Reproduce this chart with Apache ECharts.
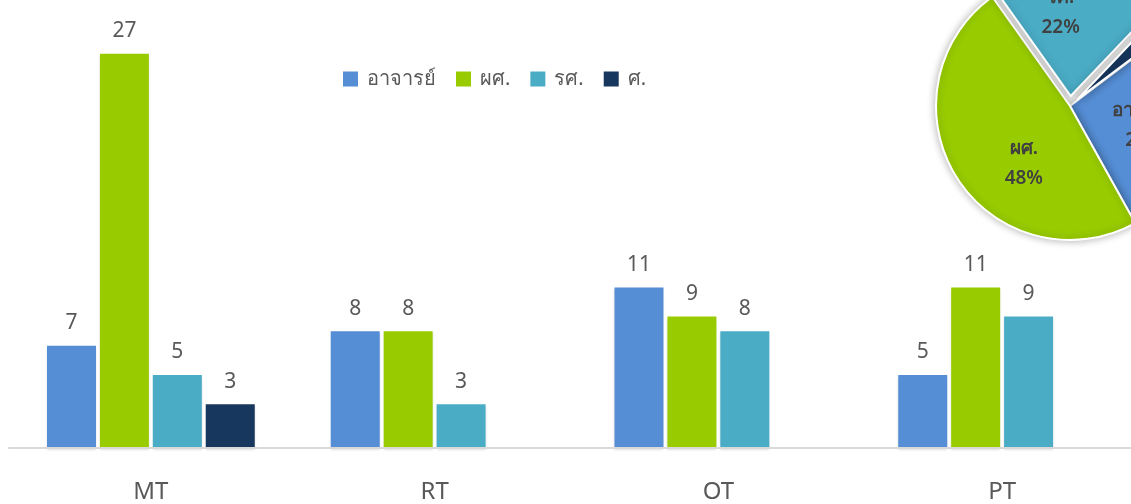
<!DOCTYPE html>
<html>
<head>
<meta charset="utf-8">
<script src="https://cdn.jsdelivr.net/npm/echarts@6/dist/echarts.min.js"></script>
<style>
  html, body { margin: 0; padding: 0; background: #fff; overflow: hidden; }
  #main { width: 1144px; height: 504px; }
</style>
</head>
<body>
<div id="main"></div>
<script>
var categories = ['MT', 'RT', 'OT', 'PT'];
var seriesNames = ['อาจารย์', 'ผศ.', 'รศ.', 'ศ.'];
var lecturer = [7, 8, 11, 5];
var asstProf = [27, 8, 9, 11];
var assocProf = [5, 3, 8, 9];
var professor = [3, null, null, null];
var pieValues = [31, 55, 25, 3];
var colors = ['#558ED5', '#99CC00', '#4BACC6', '#17375E'];
// nudges so the pie labels sit where the original put them
var pieLabelShift = [[6, 5], [13, 20], [-15, -14], [0, 0]];

var font = 'Noto Sans, sans-serif';
var chart = echarts.init(document.getElementById('main'));

function barSeries (name, data, color) {
  return {
    name: name,
    type: 'bar',
    data: data,
    barWidth: 49,
    barGap: '8%',
    itemStyle: {
      color: color,
      shadowColor: 'rgba(0,0,0,0.12)',
      shadowOffsetY: 2,
      shadowBlur: 2
    },
    label: {
      show: true,
      position: 'top',
      distance: 12,
      color: '#595959',
      fontSize: 21,
      fontFamily: font
    }
  };
}

chart.setOption({
  animation: false,
  color: colors,
  legend: {
    data: seriesNames,
    left: 343,
    top: 69,
    padding: 0,
    icon: 'rect',
    itemWidth: 15,
    itemHeight: 15,
    itemGap: 20,
    textStyle: {
      color: '#595959',
      fontSize: 20,
      fontFamily: font,
      padding: [0, 0, 0, 4]
    }
  },
  grid: {
    left: 9,
    right: 0,
    top: 10,
    height: 439
  },
  xAxis: {
    type: 'category',
    data: categories,
    axisTick: { show: false },
    axisLine: { lineStyle: { color: '#D9D9D9', width: 2 } },
    axisLabel: {
      color: '#595959',
      fontSize: 24,
      fontFamily: font,
      margin: 32
    },
    z: 10
  },
  yAxis: {
    type: 'value',
    min: 0,
    max: 30,
    show: false
  },
  series: [
    barSeries(seriesNames[0], lecturer, colors[0]),
    barSeries(seriesNames[1], asstProf, colors[1]),
    barSeries(seriesNames[2], assocProf, colors[2]),
    barSeries(seriesNames[3], professor, colors[3]),
    {
      type: 'pie',
      center: [1070, 106],
      radius: [0, 134],
      startAngle: 37,
      clockwise: true,
      selectedMode: 'multiple',
      selectedOffset: 10,
      z: 20,
      data: seriesNames.map(function (n, i) {
        return {
          name: n,
          value: pieValues[i],
          selected: i >= 2,
          label: { show: i < 3 }
        };
      }),
      itemStyle: {
        borderColor: '#fff',
        borderWidth: 2,
        shadowColor: 'rgba(0,0,0,0.3)',
        shadowBlur: 8
      },
      label: {
        show: true,
        position: 'inside',
        color: '#404040',
        fontSize: 19,
        fontWeight: 600,
        lineHeight: 30,
        fontFamily: font,
        formatter: function (p) {
          return p.name + '\n' + Math.round(p.percent) + '%';
        }
      },
      labelLayout: function (params) {
        var s = pieLabelShift[params.dataIndex] || [0, 0];
        return { dx: s[0], dy: s[1] };
      },
      labelLine: { show: false }
    }
  ]
});
</script>
</body>
</html>
